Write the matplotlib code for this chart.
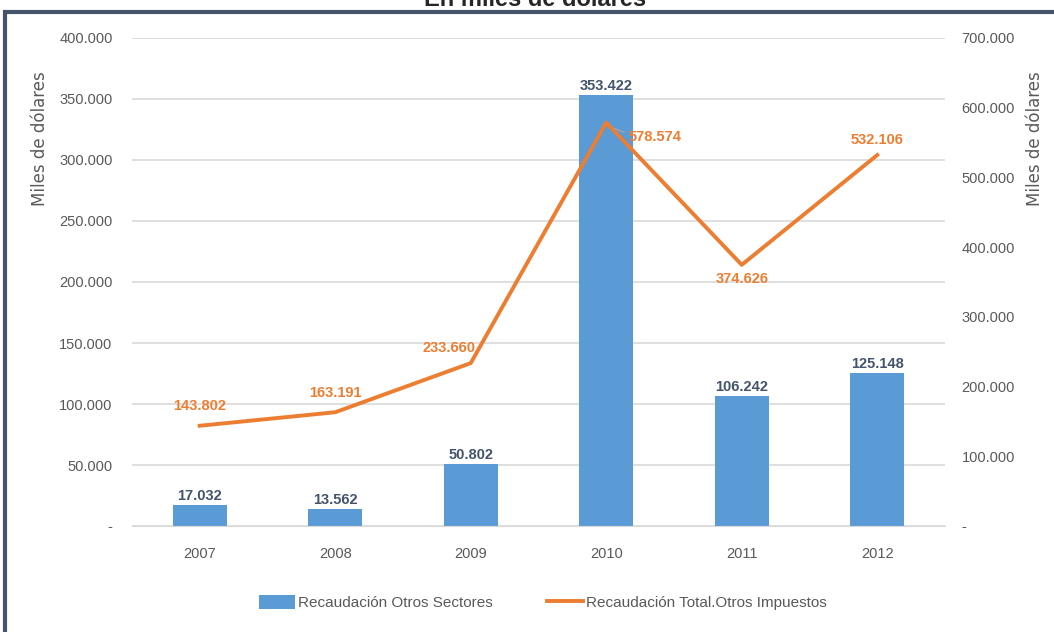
import matplotlib.pyplot as plt
import matplotlib
from matplotlib.patches import Rectangle
from matplotlib.ticker import FuncFormatter

matplotlib.rcParams['font.family'] = ['Liberation Sans', 'DejaVu Sans']

years = ["2007", "2008", "2009", "2010", "2011", "2012"]
otros_sectores = [17032, 13562, 50802, 353422, 106242, 125148]
total_otros_impuestos = [143802, 163191, 233660, 578574, 374626, 532106]

bar_color = '#5B9BD5'
line_color = '#ED7D31'
text_gray = '#595959'
label_dark = '#44546A'


def miles(v, pos=None):
    if v == 0:
        return '-'
    return f"{int(round(v)):,}".replace(',', '.')


fig = plt.figure(figsize=(10.54, 6.32), dpi=100)
ax = fig.add_axes([0.1252, 0.1677, 0.7714, 0.7722])
ax2 = ax.twinx()

x = range(len(years))
ax.bar(x, otros_sectores, width=0.4, color=bar_color, zorder=2,
       label='Recaudación Otros Sectores')
ax2.plot(x, total_otros_impuestos, color=line_color, lw=2.8, zorder=3,
         label='Recaudación Total.Otros Impuestos')

ax.set_xlim(-0.5, len(years) - 0.5)
ax.set_ylim(0, 400000)
ax2.set_ylim(0, 700000)
ax.set_yticks(range(0, 400001, 50000))
ax2.set_yticks(range(0, 700001, 100000))
ax.yaxis.set_major_formatter(FuncFormatter(miles))
ax2.yaxis.set_major_formatter(FuncFormatter(miles))
ax.set_xticks(list(x))
ax.set_xticklabels(years)

ax.grid(axis='y', color='#D9D9D9', lw=1.2, zorder=0)
ax.set_axisbelow(True)
for a in (ax, ax2):
    for s in a.spines.values():
        s.set_visible(False)
    a.tick_params(length=0, labelsize=10.5, colors=text_gray)
ax.spines['bottom'].set_visible(True)
ax.spines['bottom'].set_color('#D9D9D9')
ax.tick_params(axis='y', pad=14)
ax2.tick_params(axis='y', pad=12)
ax.tick_params(axis='x', pad=15)

# etiquetas de barras
for i, v in enumerate(otros_sectores):
    ax.annotate(miles(v), (i, v), xytext=(0, 1.5), textcoords='offset points',
                ha='center', va='bottom', fontsize=10.5, fontweight='bold',
                color=label_dark)

# etiquetas de la linea
offsets = [(0, 9, 'center', 'bottom'), (0, 9, 'center', 'bottom'),
           (-16, 6, 'center', 'bottom'), (16, -10, 'left', 'center'),
           (0, -5, 'center', 'top'), (0, 6, 'center', 'bottom')]
for i, v in enumerate(total_otros_impuestos):
    dx, dy, ha, va = offsets[i]
    ax2.annotate(miles(v), (i, v), xytext=(dx, dy), textcoords='offset points',
                 ha=ha, va=va, fontsize=10.5, fontweight='bold', color=line_color)
ax2.plot([3.06, 3.13], [570000, 565000], color='#A6A6A6', lw=1, zorder=4)

fig.text(0.038, 0.78, 'Miles de dólares', rotation=90, ha='center', va='center',
         fontsize=12, color=text_gray, family=['DejaVu Sans'])
fig.text(0.982, 0.78, 'Miles de dólares', rotation=90, ha='center', va='center',
         fontsize=12, color=text_gray, family=['DejaVu Sans'])

h1, l1 = ax.get_legend_handles_labels()
h2, l2 = ax2.get_legend_handles_labels()
fig.legend(h1 + h2, l1 + l2, loc='center', bbox_to_anchor=(0.515, 0.046),
           ncol=2, frameon=False, fontsize=11, labelcolor=text_gray,
           handlelength=2.4, handleheight=1.0, columnspacing=3.5, handletextpad=0.2)

# marco y titulo recortado
fig.patches.append(Rectangle((5 / 1054, -0.1), 1.2, 1 - 12 / 632 + 0.1,
                             transform=fig.transFigure, fill=False,
                             edgecolor='#44546A', lw=3, zorder=10))
fig.text(0.508, 1 - 6 / 632, 'En miles de dólares', ha='center', va='baseline',
         fontsize=17, fontweight='bold', color='#262626')

fig.savefig('out.png', dpi=100)
